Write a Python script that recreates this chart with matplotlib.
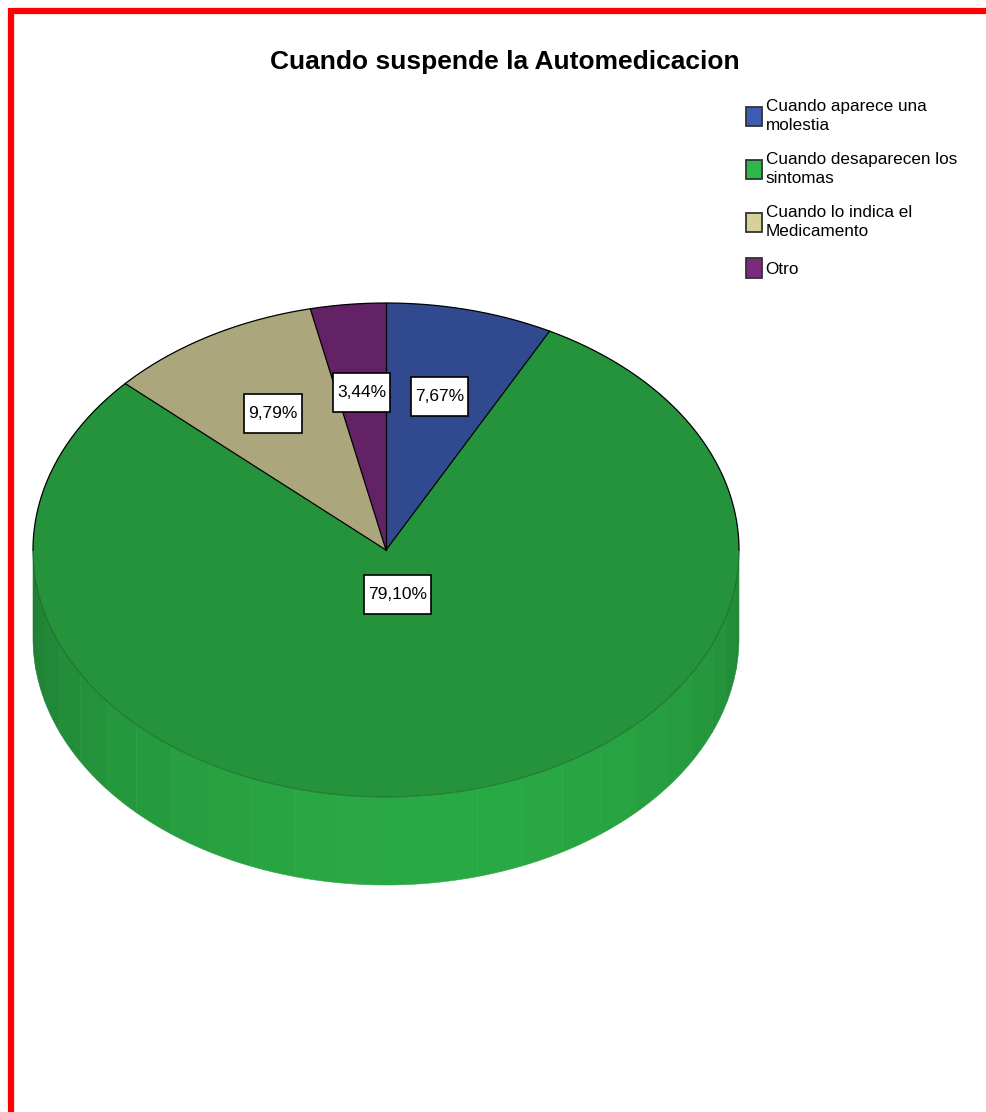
import numpy as np
import matplotlib.pyplot as plt
from matplotlib.patches import Polygon, Patch, Rectangle
from matplotlib.colors import to_rgb

plt.rcParams['font.family'] = ['Liberation Sans', 'DejaVu Sans']

title = 'Cuando suspende la Automedicacion'
categories = ['Cuando aparece una\nmolestia',
              'Cuando desaparecen los\nsintomas',
              'Cuando lo indica el\nMedicamento',
              'Otro']
percent = [7.67, 79.10, 9.79, 3.44]
value_labels = ['7,67%', '79,10%', '9,79%', '3,44%']
colors = ['#3d5db3', '#2db84a', '#d6d09a', '#7b2a7e']

# pie geometry in pixel units
cx, cy = 386, 550
rx, ry = 353, 247
depth = 88


def shade(c, f):
    r, g, b = to_rgb(c)
    return (r * f, g * f, b * f)


def pt(t, dy=0.0):
    # t in degrees, math convention; y axis points down
    a = np.radians(t)
    return cx + rx * np.cos(a), cy - ry * np.sin(a) + dy


fig = plt.figure(figsize=(9.86, 11.12), dpi=100)
ax = fig.add_axes([0, 0, 1, 1])
ax.set_xlim(0, 986)
ax.set_ylim(1112, 0)
ax.axis('off')

fracs = np.array(percent) / sum(percent)
cum = np.concatenate([[0], np.cumsum(fracs)]) * 360  # clockwise from 12 o'clock


def slice_at(t):
    cw = (90 - t) % 360
    return min(np.searchsorted(cum, cw, side='right') - 1, len(fracs) - 1)


# side wall of the front half, in shaded bands
step = 7.5
for t0 in np.arange(180, 360, step):
    t1 = t0 + step
    tm = (t0 + t1) / 2
    i = slice_at(tm)
    f = 0.70 + 0.22 * (-np.sin(np.radians(tm - 8)))
    ts = np.linspace(t0, t1, 8)
    top = [pt(t) for t in ts]
    bot = [pt(t, depth) for t in ts[::-1]]
    c = shade(colors[i], f)
    ax.add_patch(Polygon(top + bot, closed=True, facecolor=c, edgecolor=c, lw=0.4))

# top face
for i, fr in enumerate(fracs):
    t_start = 90 - cum[i]
    t_end = 90 - cum[i + 1]
    ts = np.linspace(t_start, t_end, 200)
    verts = [(cx, cy)] + [pt(t) for t in ts]
    ax.add_patch(Polygon(verts, closed=True, facecolor=shade(colors[i], 0.8),
                         edgecolor='none'))
    x0, y0 = pt(t_start)
    ax.plot([cx, x0], [cy, y0], color='black', lw=0.9)

back = np.linspace(0, 180, 300)
ax.plot(*zip(*[pt(t) for t in back]), color='black', lw=0.9)
front = np.linspace(180, 360, 300)
ax.plot(*zip(*[pt(t) for t in front]), color=(0, 0, 0, 0.25), lw=0.8)

# percentage labels with tall white boxes
renderer = fig.canvas.get_renderer()
inv = ax.transData.inverted()
for i, fr in enumerate(fracs):
    mid = 90 - (cum[i] + cum[i + 1]) / 2
    r = 0.64 if fr < 0.5 else 0.185
    a = np.radians(mid)
    x = cx + r * rx * np.cos(a)
    y = cy - r * ry * np.sin(a)
    txt = ax.text(x, y, value_labels[i], ha='center', va='center', fontsize=12.5, zorder=5)
    bb = txt.get_window_extent(renderer)
    (x0, y1), (x1, y0) = inv.transform([[bb.x0, bb.y0], [bb.x1, bb.y1]])
    w = (x1 - x0) + 8
    ax.add_patch(Rectangle((x - w / 2, y - 19.5), w, 39, facecolor='white',
                           edgecolor='black', lw=1.2, zorder=4))

ax.text(505, 62, title, ha='center', va='center', fontsize=19, fontweight='bold')

handles = [Patch(facecolor=c, edgecolor='#333333', lw=1.3) for c in colors]
leg = ax.legend(handles, categories, loc='upper left',
                bbox_to_anchor=(746 / 986, 1 - 99 / 1112),
                bbox_transform=fig.transFigure, frameon=False, fontsize=12.3,
                handlelength=0.95, handleheight=1.4, handletextpad=0.2,
                labelspacing=1.1, borderpad=0, borderaxespad=0)
for t in leg.get_texts():
    t.set_linespacing(1.35)

# red frame along the top and left
ax.plot([11, 986], [10.5, 10.5], color='red', lw=4.5, solid_capstyle='butt')
ax.plot([11, 11], [8, 1112], color='red', lw=4.5, solid_capstyle='butt')

fig.savefig('out.png', dpi=100)
